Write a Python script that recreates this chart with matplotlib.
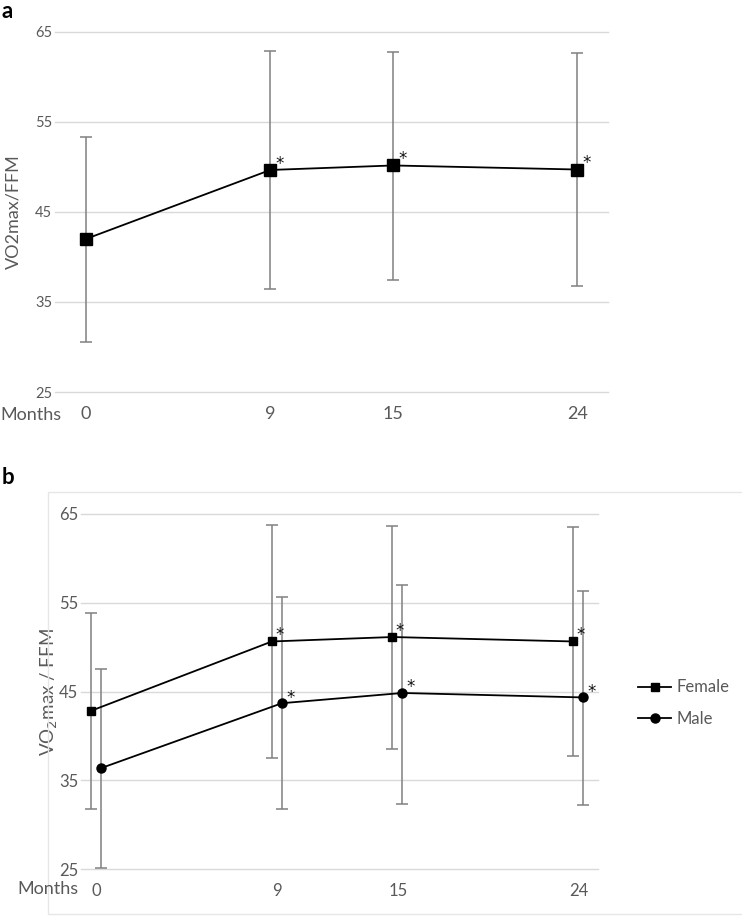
import matplotlib
matplotlib.use("Agg")
import matplotlib.pyplot as plt
from matplotlib.patches import Rectangle
from matplotlib.lines import Line2D

plt.rcParams['font.family'] = ['Lato', 'DejaVu Sans']

# panel a: all subjects
months = [0, 9, 15, 24]
all_mean = [42.0, 49.65, 50.15, 49.7]
all_lo = [30.6, 36.45, 37.4, 36.8]
all_hi = [53.3, 62.85, 62.75, 62.6]

# panel b: by sex
female_mean = [42.85, 50.65, 51.15, 50.65]
female_lo = [31.75, 37.55, 38.55, 37.7]
female_hi = [53.9, 63.8, 63.65, 63.5]
male_mean = [36.4, 43.7, 44.85, 44.35]
male_lo = [25.2, 31.75, 32.4, 32.2]
male_hi = [47.6, 55.6, 57.05, 56.35]

yticks = [25, 35, 45, 55, 65]
tick_col = '#595959'
grid_col = '#d9d9d9'
err_col = '#808080'

W, H = 742, 916
fig = plt.figure(figsize=(W / 100, H / 100), dpi=100)


def frac(x0, y0, x1, y1):
    return [x0 / W, 1 - y1 / H, (x1 - x0) / W, (y1 - y0) / H]


def style_axis(ax, xlim, ytick_size, xtick_size):
    ax.set_ylim(25, 65)
    ax.set_xlim(*xlim)
    for s in ax.spines.values():
        s.set_visible(False)
    for y in yticks:
        ax.axhline(y, color=grid_col, lw=1.0, zorder=0, clip_on=False)
    ax.set_yticks(yticks)
    ax.set_yticklabels([str(t) for t in yticks], fontsize=ytick_size, color=tick_col)
    ax.set_xticks(months)
    ax.set_xticklabels([str(m) for m in months], fontsize=xtick_size, color=tick_col)
    ax.tick_params(length=0)
    ax.tick_params(axis='y', pad=2)
    ax.tick_params(axis='x', pad=10)


def draw_series(ax, x, mean, lo, hi, marker, ms, star_off):
    yerr = [[m - l for m, l in zip(mean, lo)], [h - m for m, h in zip(mean, hi)]]
    ax.errorbar(x, mean, yerr=yerr, fmt='none', ecolor=err_col, elinewidth=1.1,
                capsize=4, capthick=1.1, zorder=2)
    ax.plot(x, mean, color='black', lw=1.3, marker=marker, ms=ms,
            mfc='black', mec='black', zorder=3)
    # significance stars for the follow-up visits
    for xi, yi in list(zip(x, mean))[1:]:
        ax.annotate('*', (xi, yi), xytext=star_off, textcoords='offset points',
                    fontsize=12, family='DejaVu Sans', ha='left', va='baseline',
                    color='#111111')


# ---- panel a ----
ax1 = fig.add_axes(frac(55, 31.7, 608, 392))
style_axis(ax1, (-1.52, 25.5), 10.5, 13)
draw_series(ax1, months, all_mean, all_lo, all_hi, 's', 8, (4.0, 1.0))
ax1.set_ylabel('VO2max/FFM', fontsize=13, color=tick_col, labelpad=10)
fig.text(0 / W, 1 - 415 / H, 'Months', fontsize=13, color=tick_col, va='center', ha='left')
fig.text(2 / W, 1 - 1 / H, 'a', fontsize=16, fontweight='bold', va='top', ha='left')

# ---- panel b ----
fig.add_artist(Rectangle((47.5 / W, 1 - 914 / H), (W + 5 - 47.5) / W, (914 - 492.3) / H,
                         transform=fig.transFigure, fill=False, ec='#e6e6e6', lw=1.0))
ax2 = fig.add_axes(frac(81, 514, 597.7, 869.3))
style_axis(ax2, (-0.78, 24.96), 12, 12)
f_x = [m - 0.27 for m in months]
m_x = [m + 0.23 for m in months]
draw_series(ax2, f_x, female_mean, female_lo, female_hi, 's', 6, (2.5, 1.0))
draw_series(ax2, m_x, male_mean, male_lo, male_hi, 'o', 6.5, (3.0, 0.5))
ax2.set_ylabel('VO$_2$max / FFM', fontsize=13.5, color=tick_col, labelpad=-1)
fig.text(17 / W, 1 - 889 / H, 'Months', fontsize=13, color=tick_col, va='center', ha='left')
fig.text(2 / W, 1 - 467 / H, 'b', fontsize=16, fontweight='bold', va='top', ha='left')

handles = [Line2D([], [], color='black', lw=1.3, marker='s', ms=6),
           Line2D([], [], color='black', lw=1.3, marker='o', ms=6.5)]
fig.legend(handles, ['Female', 'Male'], loc='center left',
           bbox_to_anchor=(638 / W, 1 - 703 / H), frameon=False, fontsize=12,
           labelcolor=tick_col, handlelength=2.0, handletextpad=0.3,
           labelspacing=0.9, borderpad=0, borderaxespad=0)

fig.savefig('out.png', dpi=100, facecolor='white')
